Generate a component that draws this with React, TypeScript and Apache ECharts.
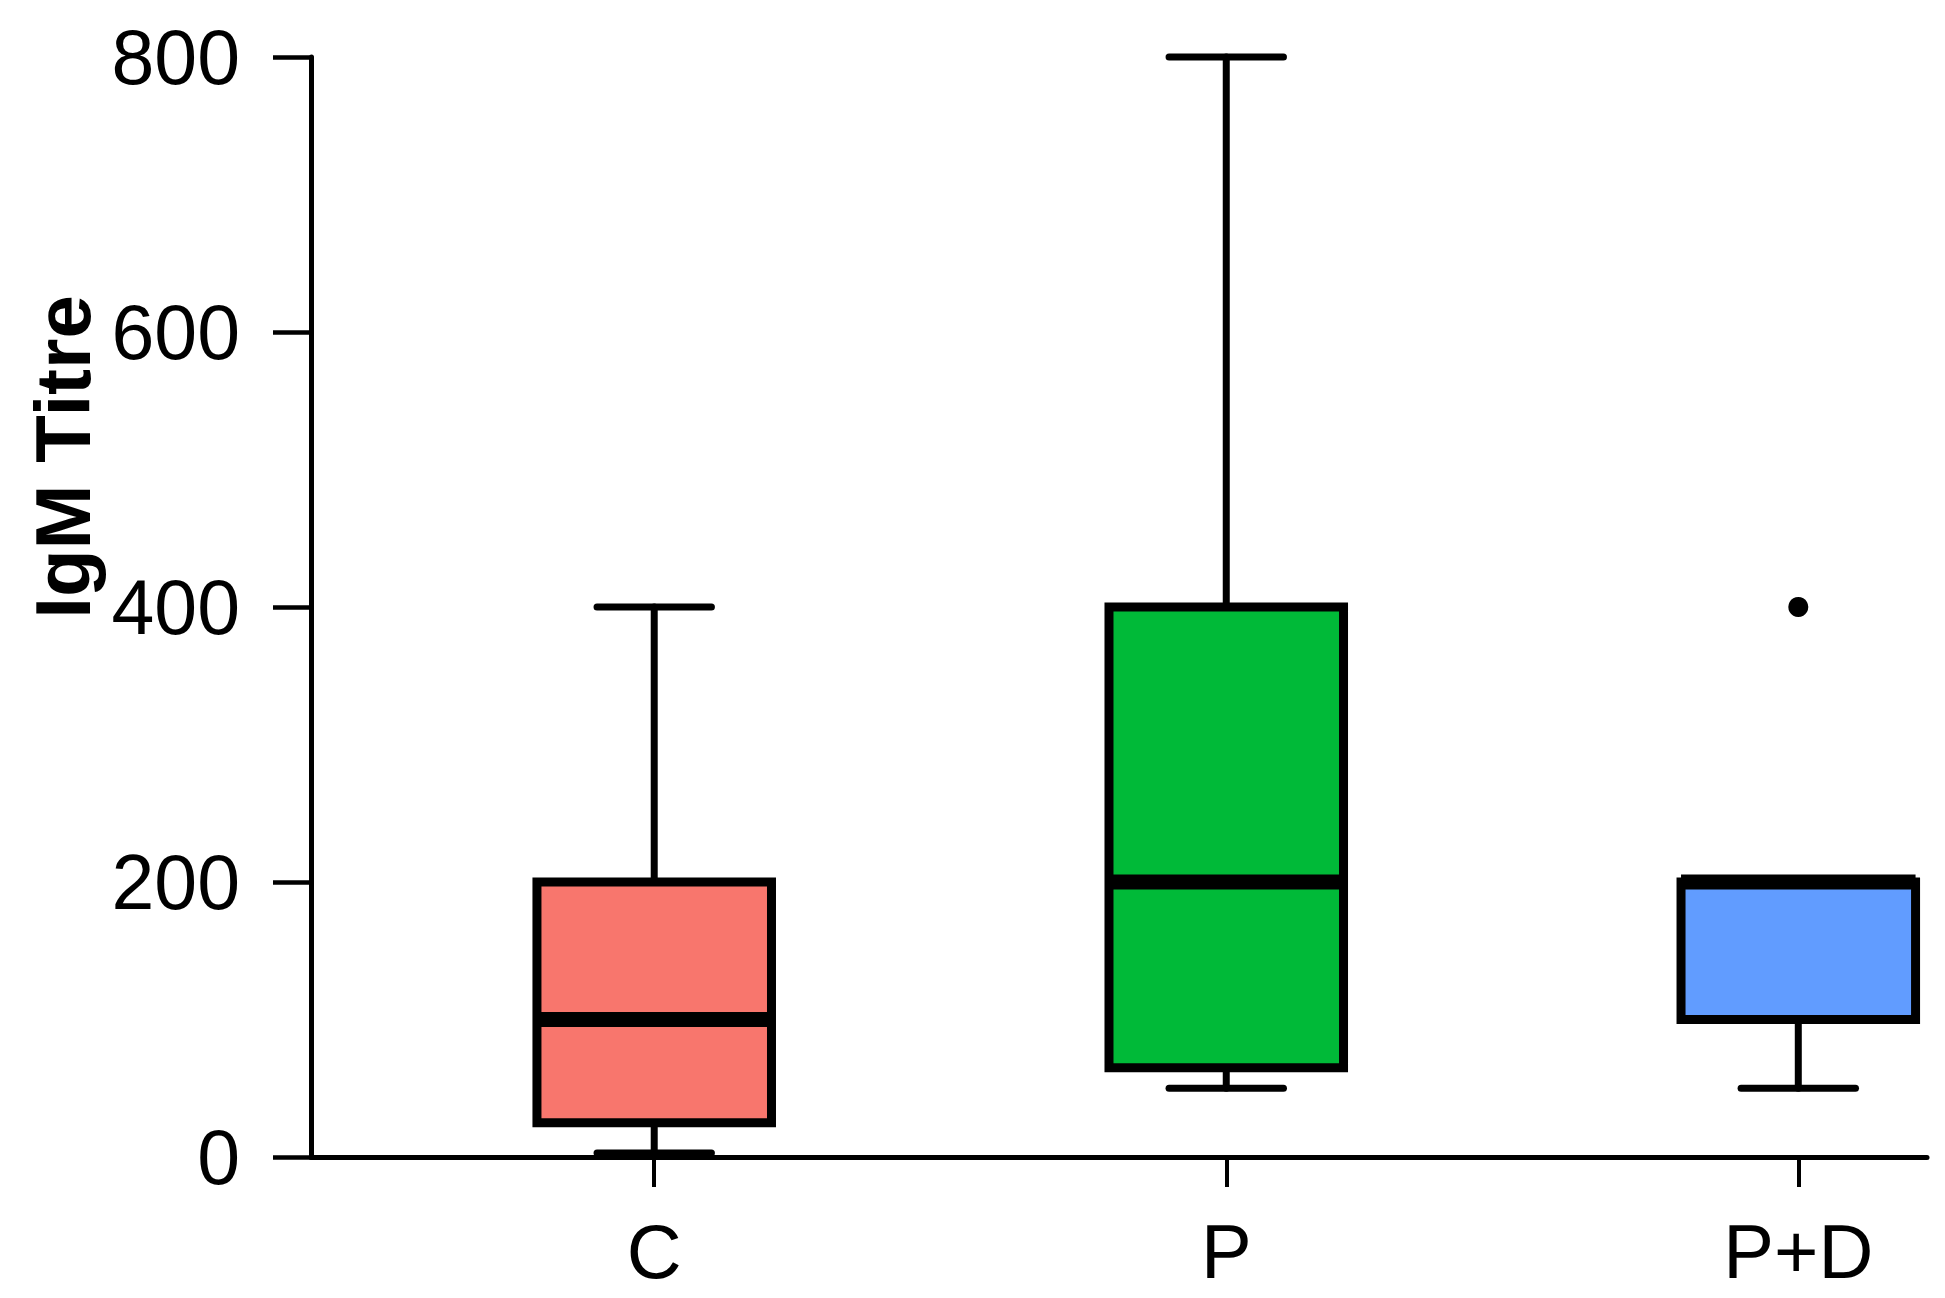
import React, { useEffect, useRef } from "react";
import * as echarts from "echarts";

// ---- data ----
const categories = ["C", "P", "P+D"];
const categoryPositions = [1, 2, 3];
const whiskerLow = [3, 50, 50];
const quartile1 = [25, 65, 100];
const medians = [100, 200, 200];
const quartile3 = [200, 400, 200];
const whiskerHigh = [400, 800, 200];
const outlierCategory = [3];
const outlierValues = [400];
const yTicks = [0, 200, 400, 600, 800];

const fillColors = ["#F8766D", "#00BA38", "#619CFF"];

const BOX_W = 0.41; // in x-axis units
const CAP_W = 0.2;

export default function App() {
  const ref = useRef<HTMLDivElement>(null);

  useEffect(() => {
    if (!ref.current) return;
    const chart = echarts.init(ref.current, null, { renderer: "svg" });

    const boxData = categoryPositions.map((p, i) => [
      p,
      whiskerLow[i],
      quartile1[i],
      medians[i],
      quartile3[i],
      whiskerHigh[i],
    ]);
    const outlierData = outlierCategory.map((c, i) => [c, outlierValues[i]]);

    const font = "'Liberation Sans', Arial, Helvetica, sans-serif";

    const option: any = {
      animation: false,
      backgroundColor: "#ffffff",
      grid: { left: 311, top: 57, width: 1616, height: 1100, containLabel: false },
      xAxis: {
        type: "value",
        min: 0.4,
        max: 3.225,
        splitLine: { show: false },
        axisLine: { show: true, lineStyle: { color: "#000", width: 5 } },
        axisTick: {
          show: true,
          customValues: categoryPositions,
          length: 30,
          lineStyle: { color: "#000", width: 4 },
        },
        axisLabel: {
          show: true,
          customValues: categoryPositions,
          formatter: (v: number) => categories[Math.round(v) - 1] ?? "",
          fontSize: 76,
          color: "#000",
          fontFamily: font,
          margin: 56,
        },
      },
      yAxis: {
        type: "value",
        min: 0,
        max: 800,
        interval: 200,
        splitLine: { show: false },
        axisLine: { show: true, lineStyle: { color: "#000", width: 5 } },
        axisTick: { show: true, length: 38, lineStyle: { color: "#000", width: 4.5 } },
        axisLabel: {
          show: true,
          customValues: yTicks,
          fontSize: 77,
          color: "#000",
          fontFamily: font,
          margin: 71,
        },
      },
      graphic: [
        {
          type: "text",
          x: 63,
          y: 457,
          rotation: Math.PI / 2,
          style: {
            text: "IgM Titre",
            fontSize: 78,
            fontWeight: "bold",
            fontFamily: font,
            fill: "#000",
            textAlign: "center",
            textVerticalAlign: "middle",
          },
        },
      ],
      series: [
        {
          type: "custom",
          name: "IgM Titre",
          data: boxData,
          encode: { x: 0, y: [1, 2, 3, 4, 5] },
          clip: false,
          renderItem: (params: any, api: any) => {
            const x = api.value(0);
            const lo = api.coord([x, api.value(1)]);
            const b1 = api.coord([x, api.value(2)]);
            const md = api.coord([x, api.value(3)]);
            const b3 = api.coord([x, api.value(4)]);
            const hi = api.coord([x, api.value(5)]);
            const halfBox = api.size([BOX_W, 0])[0] / 2;
            const halfCap = api.size([CAP_W, 0])[0] / 2;
            const cx = lo[0];
            const lineStyle = { stroke: "#000", lineWidth: 7, lineCap: "round" };
            const children: any[] = [
              { type: "line", shape: { x1: cx, y1: b1[1], x2: cx, y2: lo[1] }, style: lineStyle },
              { type: "line", shape: { x1: cx - halfCap, y1: lo[1], x2: cx + halfCap, y2: lo[1] }, style: lineStyle },
            ];
            if (Math.abs(hi[1] - b3[1]) > 0.5) {
              children.push(
                { type: "line", shape: { x1: cx, y1: b3[1], x2: cx, y2: hi[1] }, style: lineStyle },
                { type: "line", shape: { x1: cx - halfCap, y1: hi[1], x2: cx + halfCap, y2: hi[1] }, style: lineStyle }
              );
            }
            children.push(
              {
                type: "rect",
                shape: { x: cx - halfBox, y: b3[1], width: halfBox * 2, height: b1[1] - b3[1] },
                style: { fill: fillColors[params.dataIndex], stroke: "#000", lineWidth: 9 },
              },
              {
                type: "line",
                shape: { x1: cx - halfBox, y1: md[1], x2: cx + halfBox, y2: md[1] },
                style: { stroke: "#000", lineWidth: 15 },
              }
            );
            return { type: "group", children };
          },
        },
        {
          type: "scatter",
          name: "Outliers",
          data: outlierData,
          symbol: "circle",
          symbolSize: 20,
          itemStyle: { color: "#000", opacity: 1 },
        },
      ],
    };

    chart.setOption(option);
    return () => chart.dispose();
  }, []);

  return (
    <div
      ref={ref}
      style={{ position: "fixed", left: 0, top: 0, width: 1945, height: 1298, background: "#fff" }}
    />
  );
}
